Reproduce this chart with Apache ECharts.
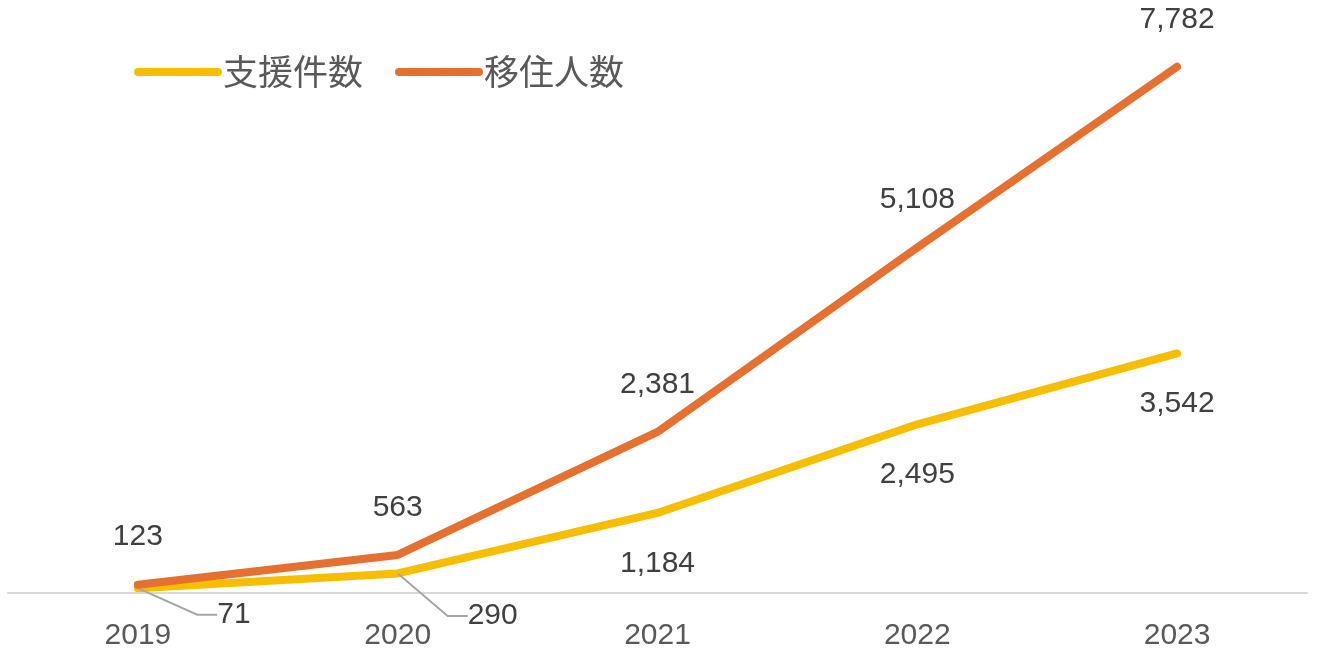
<!DOCTYPE html>
<html>
<head>
<meta charset="utf-8">
<script src="https://cdn.jsdelivr.net/npm/echarts@6/dist/echarts.min.js"></script>
<style>
  html, body { margin: 0; padding: 0; background: #fff; }
  #chart { width: 1320px; height: 656px; }
</style>
</head>
<body>
<div id="chart"></div>
<script>
const years = ['2019', '2020', '2021', '2022', '2023'];
const supportCount = [71, 290, 1184, 2495, 3542];
const migrants = [123, 563, 2381, 5108, 7782];

const numFont = '"Liberation Sans", Arial, sans-serif';
const fmt = p => p.value.toLocaleString('en-US');

// the first two yellow labels sit off to the right with a guide line
const shiftedLabels = { 0: { dx: 90, dy: -24 }, 1: { dx: 89, dy: -8 } };

const supportData = supportCount.map((v, i) => shiftedLabels[i]
  ? { value: v, label: { padding: [0, 0, 0, 12] }, labelLine: { show: true } }
  : v);

const chart = echarts.init(document.getElementById('chart'));
chart.setOption({
  animation: false,
  legend: {
    left: 129,
    top: 48,
    itemWidth: 80,
    itemHeight: 8,
    itemGap: 32,
    lineStyle: { width: 8, cap: 'round' },
    textStyle: {
      fontFamily: '"Noto Sans CJK JP", sans-serif',
      fontSize: 35,
      lineHeight: 38,
      color: '#595959'
    },
    data: ['支援件数', '移住人数']
  },
  grid: { left: 8, right: 13, top: 52, bottom: 63, containLabel: false },
  xAxis: {
    type: 'category',
    data: years,
    axisTick: { show: false },
    axisLine: { lineStyle: { color: '#d9d9d9', width: 2 } },
    axisLabel: { margin: 28, fontSize: 30, color: '#595959', fontFamily: numFont }
  },
  yAxis: {
    type: 'value',
    min: 0,
    max: 8000,
    show: false,
    splitLine: { show: false }
  },
  series: [
    {
      name: '支援件数',
      type: 'line',
      data: supportData,
      symbol: 'circle',
      symbolSize: 1,
      itemStyle: { color: '#F7BE00' },
      lineStyle: { width: 8, color: '#F7BE00', cap: 'round', join: 'round' },
      label: {
        show: true,
        position: 'bottom',
        distance: 35,
        fontSize: 30,
        color: '#404040',
        fontFamily: numFont,
        formatter: fmt
      },
      labelLine: {
        show: false,
        length2: 20,
        lineStyle: { color: '#a6a6a6', width: 2 }
      },
      labelLayout: params => shiftedLabels[params.dataIndex] || {},
      z: 2
    },
    {
      name: '移住人数',
      type: 'line',
      data: migrants,
      symbol: 'circle',
      symbolSize: 1,
      itemStyle: { color: '#E5702F' },
      lineStyle: { width: 8, color: '#E5702F', cap: 'round', join: 'round' },
      label: {
        show: true,
        position: 'top',
        distance: 32,
        fontSize: 30,
        color: '#404040',
        fontFamily: numFont,
        formatter: fmt
      },
      z: 3
    }
  ]
});
</script>
</body>
</html>
